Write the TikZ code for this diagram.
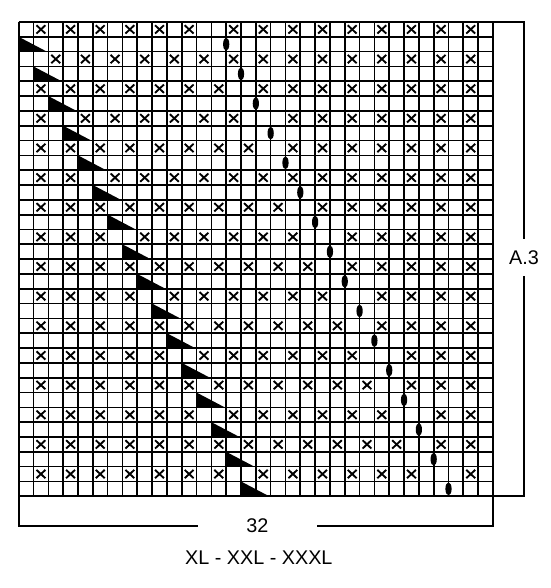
\documentclass[tikz,border=0pt]{standalone}
\usepackage{fontspec}
\setmainfont{Liberation Sans}
\tikzset{
  gridline/.style={line width=1.6pt},
  xmark/.style={line width=1.8pt},
  bracket/.style={line width=2.2pt},
  lbl/.style={font=\fontsize{19}{22}\selectfont, inner sep=0pt}
}
\begin{document}
\begin{tikzpicture}[x=0.5cm,y=0.5cm]
\useasboundingbox (-1.262,1.484) rectangle (35.85,-38.19);
% chart squares
\foreach \i in {0,...,32} {
  \draw[gridline] (\i,0) -- (\i,-32);
  \draw[gridline] (0,-\i) -- (32,-\i);
}
% crosses
\foreach \r/\cols in {1/{1,3,...,11,14,16,...,30},
                      3/{2,4,...,30},
                      5/{1,3,...,13,16,18,...,30},
                      7/{1,4,6,...,14,18,20,...,30},
                      9/{1,3,...,15,18,20,...,30},
                      11/{1,3,6,8,...,30},
                      13/{1,3,...,17,20,22,...,30},
                      15/{1,3,5,8,10,...,18,22,24,...,30},
                      17/{1,3,...,19,22,24,...,30},
                      19/{1,3,5,7,10,12,...,20,24,26,28,30},
                      21/{1,3,...,21,24,26,28,30},
                      23/{1,3,...,9,12,14,...,22,26,28,30},
                      25/{1,3,...,23,26,28,30},
                      27/{1,3,...,11,14,16,...,24,28,30},
                      29/{1,3,...,25,28,30},
                      31/{1,3,...,13,16,18,...,26,30}}
  \foreach \c in \cols {
    \draw[xmark] (\c+0.2,-\r+0.22) -- (\c+0.8,-\r+0.78);
    \draw[xmark] (\c+0.2,-\r+0.78) -- (\c+0.8,-\r+0.22);
  }
% decreases and yarn overs
\foreach \k in {1,...,16} {
  \fill (\k-1,-2*\k+1) -- (\k-1,-2*\k) -- (\k+0.9,-2*\k) -- cycle;
  \fill (13+\k,-2*\k+0.5) ellipse (0.21 and 0.44);
}
% brackets
\draw[bracket] (32,0) -- (34.1,0) -- (34.1,-32) -- (32,-32);
\draw[bracket] (0,-32) -- (0,-34) -- (32,-34) -- (32,-32);
\node[lbl, fill=white, minimum height=1.25cm, minimum width=0.6cm] (lblA) at (34.1,-15.9) {A.3};
\node[lbl, fill=white, minimum width=4cm] (lblW) at (16.1,-34) {32};
\node[lbl] (lblSize) at (16.2,-36.13) {XL - XXL - XXXL};
\end{tikzpicture}
\end{document}
